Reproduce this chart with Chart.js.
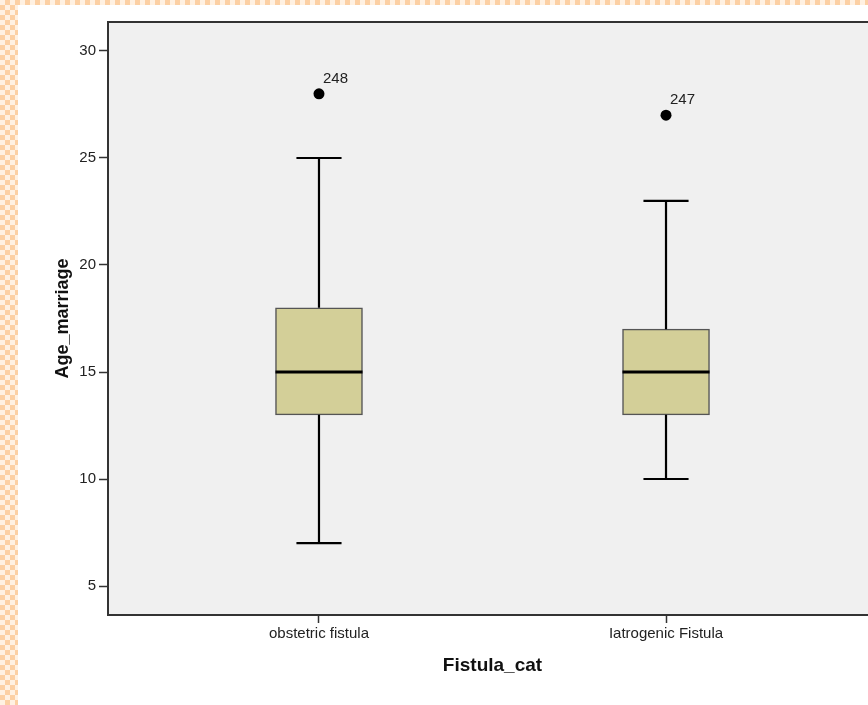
<!DOCTYPE html>
<html>
<head>
<meta charset="utf-8">
<script src="https://cdn.jsdelivr.net/npm/chart.js@4.4.1/dist/chart.umd.min.js"></script>
<style>
  html, body { margin: 0; padding: 0; width: 868px; height: 705px; overflow: hidden; }
  body {
    background-color: #fde6cf;
    background-image: repeating-conic-gradient(#fcd0a4 0 25%, #fff1e2 0 50%);
    background-size: 10px 10px;
    position: relative;
  }
  #paper { position: absolute; left: 18px; top: 5px; width: 900px; height: 720px; background: #ffffff; }
  #chart { position: absolute; left: 0; top: 0; }
</style>
</head>
<body>
<div id="paper"></div>
<canvas id="chart" width="900" height="705"></canvas>
<script>
// ---- data ----
const categories   = ['obstetric fistula', 'Iatrogenic Fistula'];
const whiskerLow   = [7, 10];
const q1Values     = [13, 13];
const medianValues = [15, 15];
const q3Values     = [18, 17];
const whiskerHigh  = [25, 23];
const outlierValues = [28, 27];
const outlierIds    = ['248', '247'];
const yTickValues   = [5, 10, 15, 20, 25, 30];

// ---- styling constants ----
const FONT = '"Liberation Sans", Arial, Helvetica, sans-serif';
const BOX_HALF = 0.1254;   // half box width in category units
const CAP_HALF = 0.065;    // half whisker cap width in category units

const idx = categories.map((_, i) => i);

const boxData = idx.map(i => ({ x: i, y: [q1Values[i], q3Values[i]] }));
const whiskerData = [];
const capData = [];
const medianData = [];
idx.forEach(i => {
  whiskerData.push({ x: i, y: q3Values[i] }, { x: i, y: whiskerHigh[i] }, { x: i, y: null },
                   { x: i, y: q1Values[i] }, { x: i, y: whiskerLow[i] }, { x: i, y: null });
  capData.push({ x: i - CAP_HALF, y: whiskerHigh[i] }, { x: i + CAP_HALF, y: whiskerHigh[i] }, { x: i, y: null },
               { x: i - CAP_HALF, y: whiskerLow[i] }, { x: i + CAP_HALF, y: whiskerLow[i] }, { x: i, y: null });
  medianData.push({ x: i - BOX_HALF, y: medianValues[i] }, { x: i + BOX_HALF, y: medianValues[i] }, { x: i, y: null });
});
const outlierData = idx.map(i => ({ x: i, y: outlierValues[i] }));

const plotFrame = {
  id: 'plotFrame',
  beforeDatasetsDraw(chart) {
    const { ctx, chartArea: a } = chart;
    ctx.save();
    ctx.fillStyle = '#f0f0f0';
    ctx.fillRect(a.left, a.top, a.right - a.left, a.bottom - a.top);
    ctx.restore();
  },
  afterDraw(chart) {
    const { ctx, chartArea: a } = chart;
    ctx.save();
    ctx.strokeStyle = '#333333';
    ctx.lineWidth = 2;
    ctx.strokeRect(a.left, a.top, a.right - a.left, a.bottom - a.top);
    ctx.restore();
  }
};

const outlierLabels = {
  id: 'outlierLabels',
  afterDatasetsDraw(chart) {
    const dsIndex = chart.data.datasets.findIndex(d => d.label === 'outliers');
    const meta = chart.getDatasetMeta(dsIndex);
    const { ctx } = chart;
    ctx.save();
    ctx.font = '15px ' + FONT;
    ctx.fillStyle = '#222222';
    ctx.textAlign = 'left';
    ctx.textBaseline = 'alphabetic';
    meta.data.forEach((pt, i) => {
      ctx.fillText(outlierIds[i], pt.x + 4, pt.y - 11);
    });
    ctx.restore();
  }
};

new Chart(document.getElementById('chart'), {
  data: {
    datasets: [
      { type: 'line', label: 'medians', data: medianData, borderColor: '#000', borderWidth: 3,
        pointRadius: 0, spanGaps: false, order: 0 },
      { type: 'scatter', label: 'outliers', data: outlierData, backgroundColor: '#000', borderWidth: 0,
        pointRadius: 5.5, order: 0 },
      { type: 'line', label: 'whiskers', data: whiskerData, borderColor: '#000', borderWidth: 2.2,
        pointRadius: 0, spanGaps: false, order: 1 },
      { type: 'line', label: 'caps', data: capData, borderColor: '#000', borderWidth: 2.2,
        pointRadius: 0, spanGaps: false, order: 1 },
      { type: 'bar', label: 'boxes', data: boxData, backgroundColor: '#d3cf98', borderColor: '#555555',
        borderWidth: 1.5, borderSkipped: false, barThickness: 87, order: 5 }
    ]
  },
  options: {
    responsive: false,
    animation: false,
    devicePixelRatio: 1,
    layout: { padding: { left: 0, top: 22, right: 23, bottom: 0 } },
    plugins: { legend: { display: false }, tooltip: { enabled: false } },
    scales: {
      x: {
        type: 'linear',
        offset: false,
        min: -0.608, max: 1.608,
        afterBuildTicks: s => { s.ticks = idx.map(v => ({ value: v })); },
        afterFit: s => { s.height = 90; },
        grid: { display: true, offset: false, drawOnChartArea: false, drawTicks: true, tickLength: 8, tickColor: '#333', tickWidth: 1.5 },
        border: { display: true, color: '#333', width: 2 },
        ticks: { callback: v => categories[v] ?? '', color: '#222', font: { family: FONT, size: 15 }, padding: 2, maxRotation: 0, autoSkip: false },
        title: { display: true, text: 'Fistula_cat', color: '#111', font: { family: FONT, size: 19, weight: 'bold' }, padding: { top: 0, bottom: 28 } }
      },
      y: {
        type: 'linear',
        min: 3.645, max: 31.355,
        afterBuildTicks: s => { s.ticks = yTickValues.map(v => ({ value: v })); },
        afterFit: s => { s.width = 108; },
        grid: { display: true, drawOnChartArea: false, drawTicks: true, tickLength: 9, tickColor: '#333', tickWidth: 1.5 },
        border: { display: true, color: '#333', width: 2 },
        ticks: { callback: v => String(v), color: '#222', font: { family: FONT, size: 15 }, padding: 3 },
        title: { display: true, text: 'Age_marriage', color: '#111', font: { family: FONT, size: 18, weight: 'bold' }, padding: { top: 52, bottom: 0 } }
      }
    }
  },
  plugins: [plotFrame, outlierLabels]
});
</script>
</body>
</html>
